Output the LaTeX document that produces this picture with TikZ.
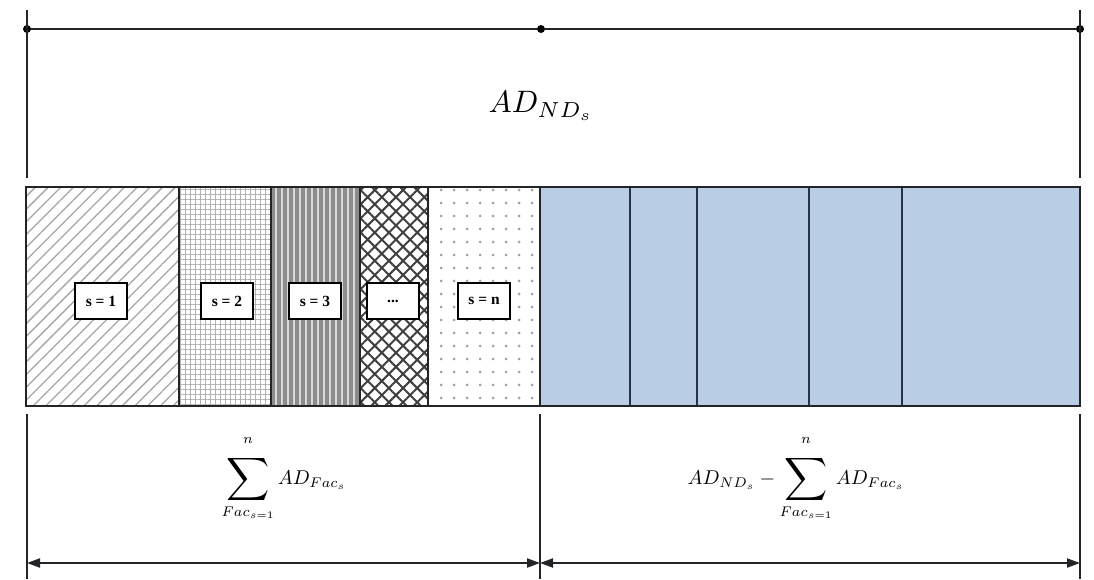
\documentclass[tikz,border=0pt]{standalone}
\usepackage{amsmath}
\usepackage{graphicx}
\usepackage{fontspec}
\setmainfont{Liberation Serif}
\usetikzlibrary{patterns.meta,arrows.meta}
\definecolor{barblue}{RGB}{185,205,229}
\definecolor{edge}{RGB}{35,35,40}
\definecolor{bluedge}{RGB}{40,50,70}
\newcommand{\Bsum}{\mathop{\vcenter{\hbox{\scalebox{1.5}{$\displaystyle\sum$}}}}\limits}
\newcommand{\Nsup}{\raisebox{4pt}{$\scriptstyle n$}}
\tikzset{
  dimline/.style={line width=2pt, draw=edge},
  dimarrow/.style={line width=2pt, draw=edge, {Triangle[length=13pt,width=9pt]}-{Triangle[length=13pt,width=9pt]}},
  seg/.style={line width=2.2pt, draw=edge},
  blueseg/.style={line width=2.2pt, draw=bluedge},
  lbl/.style={draw=black, fill=white, line width=2.2pt, minimum width=52pt, minimum height=36pt, inner sep=0pt, font=\bfseries\fontsize{15.5}{17}\selectfont},
  dot/.style={circle, fill=black, inner sep=0pt, minimum size=8pt}
}
\begin{document}
\begin{tikzpicture}[x=1pt,y=-1pt]
\useasboundingbox (0,0) rectangle (1094,579);
% ---- top dimension
\coordinate (tlt) at (27,10);
\coordinate (tlb) at (27,178);
\coordinate (trt) at (1080,10);
\coordinate (trb) at (1080,178);
\node[dot] (dl) at (27,29) {};
\node[dot] (dm) at (541,29) {};
\node[dot] (dr) at (1080,29) {};
\draw[dimline] (tlt) -- (tlb);
\draw[dimline] (trt) -- (trb);
\draw[dimline] (dl) -- (dm) -- (dr);
\node (top) at (541,106) {\scalebox{3.1}{$AD_{ND_s}$}};
% ---- bar segments
\path[preaction={fill=white}, pattern={Lines[angle=45,distance=9pt,line width=1.3pt]}, pattern color=gray!70] (26,187) rectangle (179,406);
\path[preaction={fill=white}, pattern={Hatch[angle=0,distance=5pt,line width=0.9pt]}, pattern color=gray!60] (179,187) rectangle (271,406);
\path[preaction={fill={rgb,255:red,140;green,140;blue,140}}, pattern={Lines[angle=90,distance=6pt,line width=1.5pt]}, pattern color=gray!30] (271,187) rectangle (360,406);
\path[preaction={fill=white}, pattern={Hatch[angle=45,distance=10pt,line width=2pt]}, pattern color=gray!50!black] (360,187) rectangle (428,406);
\path[preaction={fill=white}, pattern={Dots[distance=13pt,radius=1.6pt]}, pattern color=gray!75] (428,187) rectangle (540,406);
\fill[barblue] (540,187) rectangle (1080,406);
% dividers
\foreach \x in {179,271,360,428,540} \draw[seg] (\x,187) -- (\x,406);
\foreach \x in {630,697,809,902} \draw[blueseg] (\x,187) -- (\x,406);
\draw[seg] (26,187) rectangle (1080,406);
% labels
\node[lbl] (s1) at (101,301) {s = 1};
\node[lbl] (s2) at (227,301) {s = 2};
\node[lbl] (s3) at (315,301) {s = 3};
\node[lbl] (s4) at (393,301) {...};
\node[lbl] (sn) at (484,301) {s = n};
% ---- bottom dimension
\coordinate (blt) at (27,414);
\coordinate (blb) at (27,579);
\coordinate (bmt) at (540,414);
\coordinate (bmb) at (540,579);
\coordinate (brt) at (1080,414);
\coordinate (brb) at (1080,579);
\coordinate (al) at (27,563);
\coordinate (am) at (540,563);
\coordinate (ar) at (1080,563);
\draw[dimline] (blt) -- (blb);
\draw[dimline] (bmt) -- (bmb);
\draw[dimline] (brt) -- (brb);
\draw[dimarrow] (al) -- (am);
\draw[dimarrow] (am) -- (ar);
\node (suml) at (284,478) {\scalebox{2}{$\displaystyle \Bsum_{Fac_{s=1}}^{\Nsup} AD_{Fac_s}$}};
\node (sumr) at (796,478) {\scalebox{2}{$\displaystyle AD_{ND_s} - \Bsum_{Fac_{s=1}}^{\Nsup} AD_{Fac_s}$}};
\end{tikzpicture}
\end{document}
